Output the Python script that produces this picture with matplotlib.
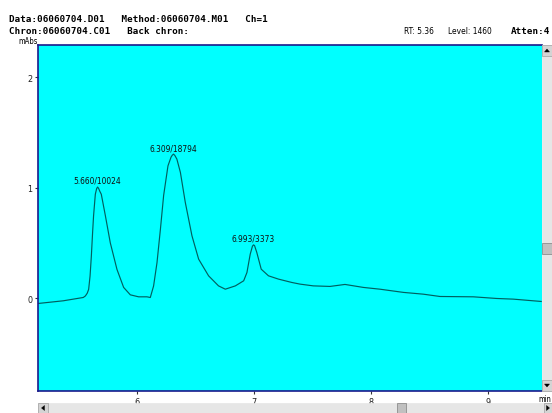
import matplotlib
matplotlib.use("Agg")
import matplotlib.pyplot as plt
from matplotlib.patches import Rectangle, Polygon
from matplotlib import font_manager

# Chromatogram trace (retention time in min, absorbance in mAbs)
times = [5.154, 5.367, 5.538, 5.556, 5.572, 5.584, 5.596, 5.607, 5.618, 5.626,
         5.641, 5.652, 5.660, 5.668, 5.680, 5.692, 5.727, 5.769, 5.826, 5.883,
         5.940, 6.011, 6.082, 6.111, 6.139, 6.168, 6.197, 6.225, 6.262, 6.288,
         6.298, 6.309, 6.320, 6.338, 6.368, 6.410, 6.467, 6.524, 6.609, 6.694,
         6.752, 6.838, 6.909, 6.937, 6.965, 6.984, 6.993, 7.002, 7.021, 7.059,
         7.121, 7.207, 7.320, 7.390, 7.504, 7.647, 7.775, 7.932, 8.074, 8.274,
         8.444, 8.587, 8.872, 9.072, 9.214, 9.452]
signal = [-0.048, -0.024, 0.006, 0.020, 0.045, 0.080, 0.200, 0.380, 0.600, 0.745,
          0.940, 0.990, 1.005, 0.995, 0.965, 0.940, 0.745, 0.500, 0.260, 0.097,
          0.030, 0.012, 0.012, 0.006, 0.110, 0.320, 0.620, 0.930, 1.197, 1.275,
          1.292, 1.303, 1.292, 1.258, 1.138, 0.866, 0.564, 0.353, 0.202, 0.111,
          0.081, 0.111, 0.157, 0.232, 0.398, 0.470, 0.482, 0.475, 0.414, 0.262,
          0.202, 0.172, 0.142, 0.127, 0.111, 0.106, 0.124, 0.097, 0.081, 0.052,
          0.036, 0.015, 0.012, -0.003, -0.009, -0.030]

# Integrated peaks: retention time, area, apex height
peak_times = [5.660, 6.309, 6.993]
peak_areas = [10024, 18794, 3373]
peak_heights = [1.005, 1.303, 0.482]

x_ticks = [6, 7, 8, 9]
y_ticks = [0, 1, 2]

W, H = 552, 414
MONO = ["DejaVu Sans Mono"]
LINE = "#005f5f"
FRAME = "#1a1a8c"

# narrow face for the small labels, if one is around
names = {f.name for f in font_manager.fontManager.ttflist}
if "Liberation Sans Narrow" in names:
    SMALL = dict(family=["Liberation Sans Narrow", "DejaVu Sans"], fontsize=7)
else:
    SMALL = dict(family=["DejaVu Sans"], fontstretch="condensed", fontsize=6)


def fx(px):
    return px / W


def fy(py):
    return 1 - py / H


fig = plt.figure(figsize=(W / 100, H / 100), dpi=100)
fig.patch.set_facecolor("white")

ax = fig.add_axes([fx(38), fy(392), fx(542) - fx(38), fy(46) - fy(392)])
ax.set_facecolor("#00ffff")
ax.plot(times, signal, color=LINE, lw=0.85)

for t, a, h in zip(peak_times, peak_areas, peak_heights):
    ax.annotate(f"{t:.3f}/{a}", (t, h), xytext=(0, 1.5), textcoords="offset points",
                ha="center", va="bottom", color="#101010", **SMALL)

ax.set_xlim(5.151, 9.459)
ax.set_ylim(-0.84, 2.29)
ax.set_xticks(x_ticks)
ax.set_yticks(y_ticks)
ax.tick_params(axis="both", length=2.5, width=0.8, color="#333333", pad=1.5,
               labelcolor="#202020")
for lab in ax.get_xticklabels() + ax.get_yticklabels():
    lab.set_family(SMALL["family"])
    lab.set_fontsize(SMALL["fontsize"] + 0.5)
    lab.set_fontstretch(SMALL.get("fontstretch", "normal"))

for side in ["left", "top", "bottom"]:
    ax.spines[side].set_color(FRAME)
    ax.spines[side].set_linewidth(1.2)
ax.spines["right"].set_visible(False)

# Header lines
fig.text(fx(9), fy(19), "Data:06060704.D01   Method:06060704.M01   Ch=1",
         family=MONO, weight="bold", fontsize=6.7, va="center", ha="left")
fig.text(fx(9), fy(31), "Chron:06060704.C01   Back chron:",
         family=MONO, weight="bold", fontsize=6.7, va="center", ha="left")
fig.text(fx(404), fy(31), "RT: 5.36", va="center", **SMALL)
fig.text(fx(448), fy(31), "Level: 1460", va="center", **SMALL)
fig.text(fx(511), fy(31), "Atten:4", family=MONO, weight="bold", fontsize=6.7,
         va="center")
fig.text(fx(38), fy(42), "mAbs", va="center", ha="right",
         **{**SMALL, "fontsize": SMALL["fontsize"] - 0.5})
fig.text(fx(551), fy(400), "min", va="center", ha="right",
         **{**SMALL, "fontsize": SMALL["fontsize"] - 0.5})


def box(x0, y0, x1, y1, color, edge=None):
    fig.patches.append(Rectangle((fx(x0), fy(y1)), fx(x1) - fx(x0), fy(y0) - fy(y1),
                                 transform=fig.transFigure, facecolor=color,
                                 edgecolor=edge or color, lw=0.5))


def arrow(cx, cy, direction):
    s = 2.5
    pts = {"up": [(cx - s, cy + 1.5), (cx + s, cy + 1.5), (cx, cy - 1.5)],
           "down": [(cx - s, cy - 1.5), (cx + s, cy - 1.5), (cx, cy + 1.5)],
           "left": [(cx + 1.5, cy - s), (cx + 1.5, cy + s), (cx - 1.5, cy)],
           "right": [(cx - 1.5, cy - s), (cx - 1.5, cy + s), (cx + 1.5, cy)]}[direction]
    fig.patches.append(Polygon([(fx(a), fy(b)) for a, b in pts], closed=True,
                               transform=fig.transFigure, facecolor="black",
                               edgecolor="black", lw=0.3))


# Vertical scrollbar
box(542, 46, 552, 392, "#e6e6e6")
box(542, 46, 552, 57, "#d4d4d4", "#a0a0a0")
box(542, 381, 552, 392, "#d4d4d4", "#a0a0a0")
box(542, 244, 552, 255, "#c0c0c0", "#808080")
arrow(547, 51.5, "up")
arrow(547, 386.5, "down")

# Horizontal scrollbar
box(38, 404, 552, 414, "#e6e6e6")
box(38, 404, 48, 414, "#d4d4d4", "#a0a0a0")
box(544, 404, 552, 414, "#d4d4d4", "#a0a0a0")
box(397, 404, 406, 414, "#c0c0c0", "#808080")
arrow(43, 409, "left")
arrow(548, 409, "right")

fig.savefig("out.png", dpi=100)
